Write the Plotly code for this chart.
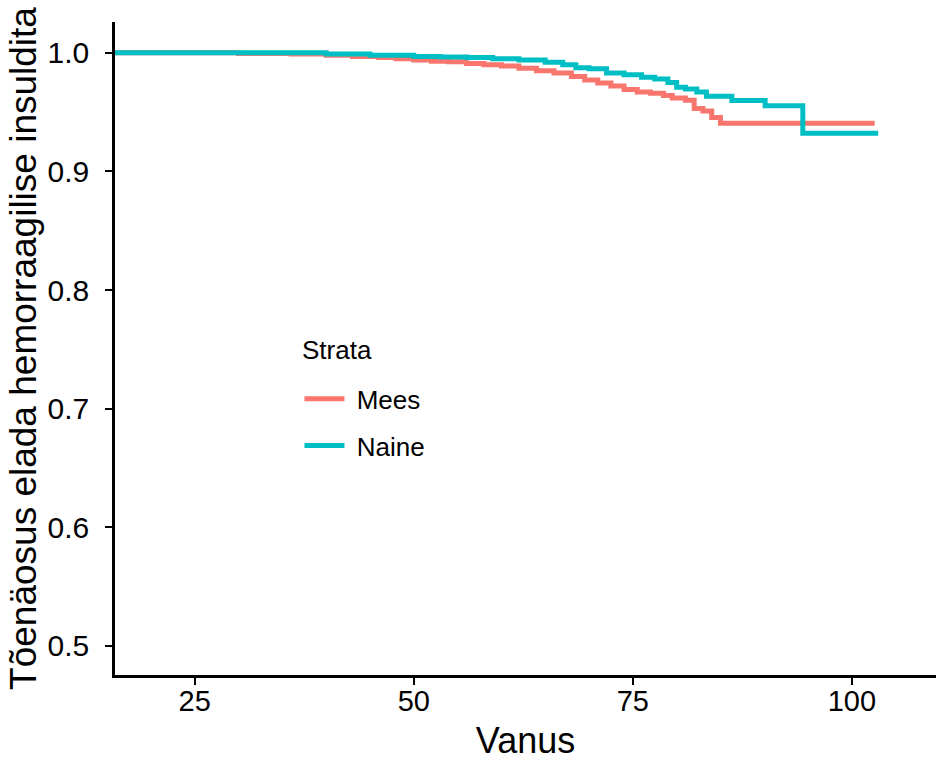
import plotly.graph_objects as go

# Mees (male) Kaplan-Meier steps
mees_age = [15.9, 30, 36, 40, 43, 46, 48, 50, 52, 54, 56, 58, 60, 62, 64, 66, 68, 69.5, 71, 72.5,
            74, 75.5, 77, 78.5, 79.5, 81, 82, 83, 84, 85, 102.6]
mees_surv = [1.0, 0.9995, 0.999, 0.998, 0.997, 0.996, 0.995, 0.994, 0.993, 0.9925, 0.991, 0.990,
             0.989, 0.987, 0.985, 0.983, 0.980, 0.977, 0.9745, 0.972, 0.969, 0.967, 0.966, 0.964,
             0.962, 0.960, 0.953, 0.951, 0.9455, 0.9407, 0.9407]

# Naine (female) Kaplan-Meier steps
naine_age = [15.9, 40, 45, 50, 53, 56, 59, 62, 65, 67, 68.5, 70, 72, 74, 76, 77.5, 79, 80, 81,
             82.3, 83.4, 86.3, 90.1, 94.4, 103]
naine_surv = [1.0, 0.999, 0.998, 0.997, 0.9965, 0.996, 0.995, 0.994, 0.992, 0.990, 0.9875, 0.9865,
              0.983, 0.9815, 0.9795, 0.978, 0.975, 0.971, 0.9695, 0.967, 0.9635, 0.9598, 0.9553,
              0.9323, 0.9323]

strata_names = ["Mees", "Naine"]
x_ticks = [25, 50, 75, 100]
y_ticks = [0.5, 0.6, 0.7, 0.8, 0.9, 1.0]

FONT = "Liberation Sans, Arial, sans-serif"
NBSP = "\u00a0"

fig = go.Figure()
fig.add_trace(go.Scatter(x=mees_age, y=mees_surv, mode="lines", name=NBSP + strata_names[0],
                         line=dict(color="#F8766D", width=5, shape="hv"), legendgroup="a"))
fig.add_trace(go.Scatter(x=naine_age, y=naine_surv, mode="lines", name=NBSP + strata_names[1],
                         line=dict(color="#00BFC4", width=5, shape="hv"), legendgroup="b"))

fig.add_annotation(text="Strata", xref="paper", yref="paper", x=0.2253, y=0.4977,
                   xanchor="left", yanchor="middle", showarrow=False,
                   font=dict(size=26, family=FONT, color="black"))

fig.update_layout(
    width=936, height=761,
    margin=dict(l=115, r=0, t=22, b=86),
    plot_bgcolor="white", paper_bgcolor="white",
    font=dict(family=FONT, color="black"),
    legend=dict(
        font=dict(size=26),
        x=0.2247, y=0.459, xanchor="left", yanchor="top",
        traceorder="grouped", tracegroupgap=10,
        itemwidth=40, bgcolor="rgba(0,0,0,0)",
    ),
    xaxis=dict(
        range=[15.9, 109.6], tickvals=x_ticks, ticktext=[str(v) for v in x_ticks],
        showgrid=False, zeroline=False, showline=True, linecolor="black", linewidth=2.5,
        ticks="outside", ticklen=7, tickwidth=2, tickcolor="black",
        tickfont=dict(size=29), ticklabelstandoff=-9, automargin=False,
        title=dict(text="Vanus", font=dict(size=36), standoff=17),
    ),
    yaxis=dict(
        range=[0.4755, 1.026], tickvals=y_ticks, ticktext=[f"{v:.1f}" for v in y_ticks],
        showgrid=False, zeroline=False, showline=True, linecolor="black", linewidth=2.5,
        ticks="outside", ticklen=7, tickwidth=2, tickcolor="black",
        tickfont=dict(size=30), ticklabelstandoff=10, automargin=False,
        title=dict(text="Tõenäosus elada hemorraagilise insuldita",
                   font=dict(size=37), standoff=0),
    ),
)

fig.write_html("out.html")
